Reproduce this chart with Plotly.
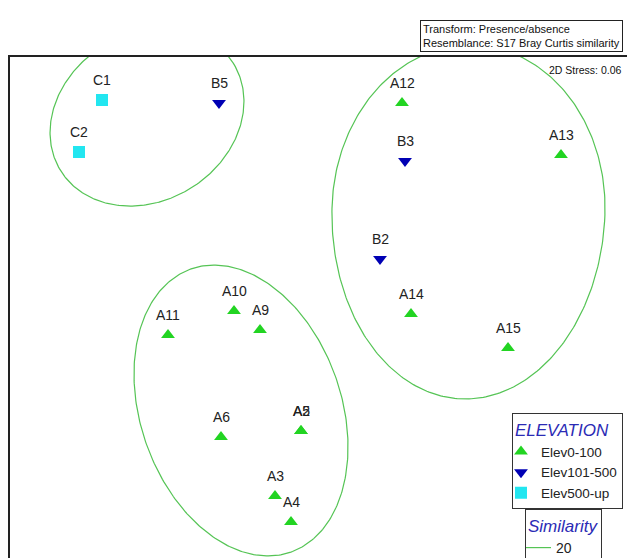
import numpy as np
import plotly.graph_objects as go

# ---- data (MDS coordinates) ----
a_labels = ["A12", "A13", "A14", "A15", "A11", "A10", "A9", "A6", "A5", "A2", "A3", "A4"]
a_x = [3.92, 5.51, 4.01, 4.98, 1.58, 2.24, 2.50, 2.11, 2.91, 2.91, 2.65, 2.81]
a_y = [4.55, 4.03, 2.44, 2.10, 2.23, 2.47, 2.28, 1.21, 1.27, 1.27, 0.62, 0.36]

b_labels = ["B5", "B3", "B2"]
b_x = [2.09, 3.95, 3.70]
b_y = [4.55, 3.97, 2.99]

c_labels = ["C1", "C2"]
c_x = [0.92, 0.69]
c_y = [4.58, 4.06]

# similarity (20%) contours: centre x, centre y, rx, ry_top, ry_bottom, angle(deg)
contour_cx = [1.37, 4.585, 2.31]
contour_cy = [4.41, 3.48, 1.475]
contour_rx = [1.017, 1.365, 1.004]
contour_ry_top = [0.836, 1.65, 1.501]
contour_ry_bot = [0.836, 1.89, 1.501]
contour_angle = [32.0, -2.0, 19.4]

legend_names = ["Elev0-100", "Elev101-500", "Elev500-up"]
similarity_level = "20"

GREEN = "#22D422"
BLUE = "#0000B4"
CYAN = "#22E6F0"
LINE_GREEN = "#55C455"
FONT = "Liberation Sans, Arial, sans-serif"

fig = go.Figure()

# contours
xs, ys = [], []
t = np.linspace(0, 2 * np.pi, 361)
for cx, cy, rx, ryt, ryb, ang in zip(contour_cx, contour_cy, contour_rx,
                                     contour_ry_top, contour_ry_bot, contour_angle):
    ex = rx * np.cos(t)
    ey = np.where(np.sin(t) >= 0, ryt, ryb) * np.sin(t)
    th = np.deg2rad(ang)
    xr = cx + ex * np.cos(th) - ey * np.sin(th)
    yr = cy + ex * np.sin(th) + ey * np.cos(th)
    xs += list(xr) + [None]
    ys += list(yr) + [None]
fig.add_trace(go.Scatter(x=xs, y=ys, mode="lines", name=similarity_level,
                         line=dict(color=LINE_GREEN, width=1.2),
                         legend="legend2", hoverinfo="skip"))

fig.add_trace(go.Scatter(x=a_x, y=a_y, mode="markers", name=legend_names[0],
                         marker=dict(symbol="triangle-up", size=12, color=GREEN),
                         text=a_labels))
fig.add_trace(go.Scatter(x=b_x, y=b_y, mode="markers", name=legend_names[1],
                         marker=dict(symbol="triangle-down", size=12, color=BLUE),
                         text=b_labels))
fig.add_trace(go.Scatter(x=c_x, y=c_y, mode="markers", name=legend_names[2],
                         marker=dict(symbol="square", size=12, color=CYAN),
                         text=c_labels))

annotations = []
for labs, xx, yy in [(a_labels, a_x, a_y), (b_labels, b_x, b_y), (c_labels, c_x, c_y)]:
    for lab, x, y in zip(labs, xx, yy):
        annotations.append(dict(x=x, y=y, text=lab, showarrow=False, yshift=20,
                                font=dict(size=14, color="#222", family=FONT)))

annotations.append(dict(xref="paper", yref="paper", x=0.9935, y=1.01,
                        xanchor="right", yanchor="bottom", showarrow=False, align="left",
                        text="Transform: Presence/absence<br>Resemblance: S17 Bray Curtis similarity",
                        font=dict(size=11, color="#111", family=FONT),
                        bordercolor="#222", borderwidth=1, borderpad=2, bgcolor="white"))
annotations.append(dict(xref="paper", yref="paper", x=0.995, y=0.974,
                        xanchor="right", yanchor="middle", showarrow=False,
                        text="2D Stress: 0.06",
                        font=dict(size=10.5, color="#111", family=FONT)))

fig.update_layout(
    width=627, height=558,
    margin=dict(l=10, r=0, t=57, b=0, autoexpand=False),
    paper_bgcolor="white", plot_bgcolor="white",
    font=dict(family=FONT),
    xaxis=dict(range=[0, 6.17], showgrid=False, zeroline=False, showticklabels=False,
               ticks="", showline=True, side="top", linecolor="#222", linewidth=2,
               fixedrange=True),
    yaxis=dict(range=[0, 5.01], showgrid=False, zeroline=False, showticklabels=False,
               ticks="", showline=True, linecolor="#222", linewidth=2, fixedrange=True),
    showlegend=True,
    legend=dict(x=0.9935, xanchor="right", y=0.289, yanchor="top",
                bordercolor="#333", borderwidth=1, bgcolor="white",
                title=dict(text="ELEVATION",
                           font=dict(size=17, color="#2B2BB5", style="italic", family=FONT)),
                font=dict(size=13.5, color="#222", family=FONT),
                itemwidth=30, tracegroupgap=0, indentation=-12),
    legend2=dict(x=(525 - 10) / 617, xanchor="left", y=0.098, yanchor="top",
                 bordercolor="#333", borderwidth=1, bgcolor="white",
                 title=dict(text="Similarity",
                            font=dict(size=17, color="#2B2BB5", style="italic", family=FONT)),
                 font=dict(size=14, color="#222", family=FONT), itemwidth=30,
                 indentation=-10),
    annotations=annotations,
)

fig.write_html("out.html", config={"displayModeBar": False},
               post_script="document.body.style.margin='0';document.body.style.overflow='hidden';")
